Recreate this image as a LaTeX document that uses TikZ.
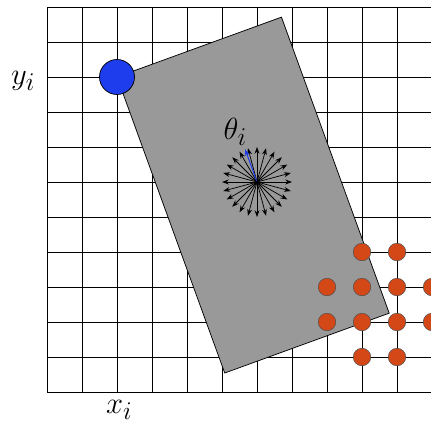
\documentclass[tikz,border=0pt]{standalone}
\usetikzlibrary{arrows.meta}
\definecolor{agentblue}{RGB}{30,62,238}
\definecolor{dotorange}{RGB}{212,72,24}
\definecolor{boxgray}{RGB}{153,153,153}
\tikzset{
  gridline/.style={line width=0.7pt, black},
  robot/.style={fill=boxgray, draw=black, line width=0.6pt},
  bluedot/.style={circle, fill=agentblue, draw=black, line width=0.6pt, minimum size=1cm, inner sep=0pt},
  obst/.style={circle, fill=dotorange, draw=black!70, line width=0.4pt, minimum size=0.5cm, inner sep=0pt},
  ray/.style={-{Stealth[length=5.5pt,width=4pt]}, line width=0.6pt, black},
  heading/.style={-{Stealth[length=5.5pt,width=4pt]}, line width=0.8pt, agentblue},
  lbl/.style={inner sep=0pt, anchor=base west, font=\fontsize{32}{38}\selectfont}
}
\begin{document}
\begin{tikzpicture}
\useasboundingbox (-1.343,-0.886) rectangle (10.971,11.2);
\clip (-1.343,-0.886) rectangle (10.971,11.2);
% grid
\draw[gridline] (0,0) grid (11,11);
% robot body
\begin{scope}[shift={(2,9)}, rotate=20]
  \draw[robot] (0,0) rectangle (5,-9);
\end{scope}
% agent position
\node[bluedot] (agent) at (2,9) {};
% direction star
\coordinate (s) at (6,6);
\foreach \a in {0,15,...,345} {
  \draw[ray] (s) -- ++(\a:1);
}
\draw[heading] (s) -- ++(110:1);
\fill (s) circle (0.05);
% obstacles
\foreach \p [count=\k] in {(9,4),(10,4),(8,3),(9,3),(10,3),(11,3),(8,2),(9,2),(10,2),(11,2),(9,1),(10,1)} {
  \node[obst] (o\k) at \p {};
}
% labels
\node[lbl] (theta) at (5.04,7.22) {$\theta_i$};
\node[lbl] (ylab) at (-1.03,8.8) {$y_i$};
\node[lbl] (xlab) at (1.68,-0.60) {$x_i$};
\end{tikzpicture}
\end{document}
